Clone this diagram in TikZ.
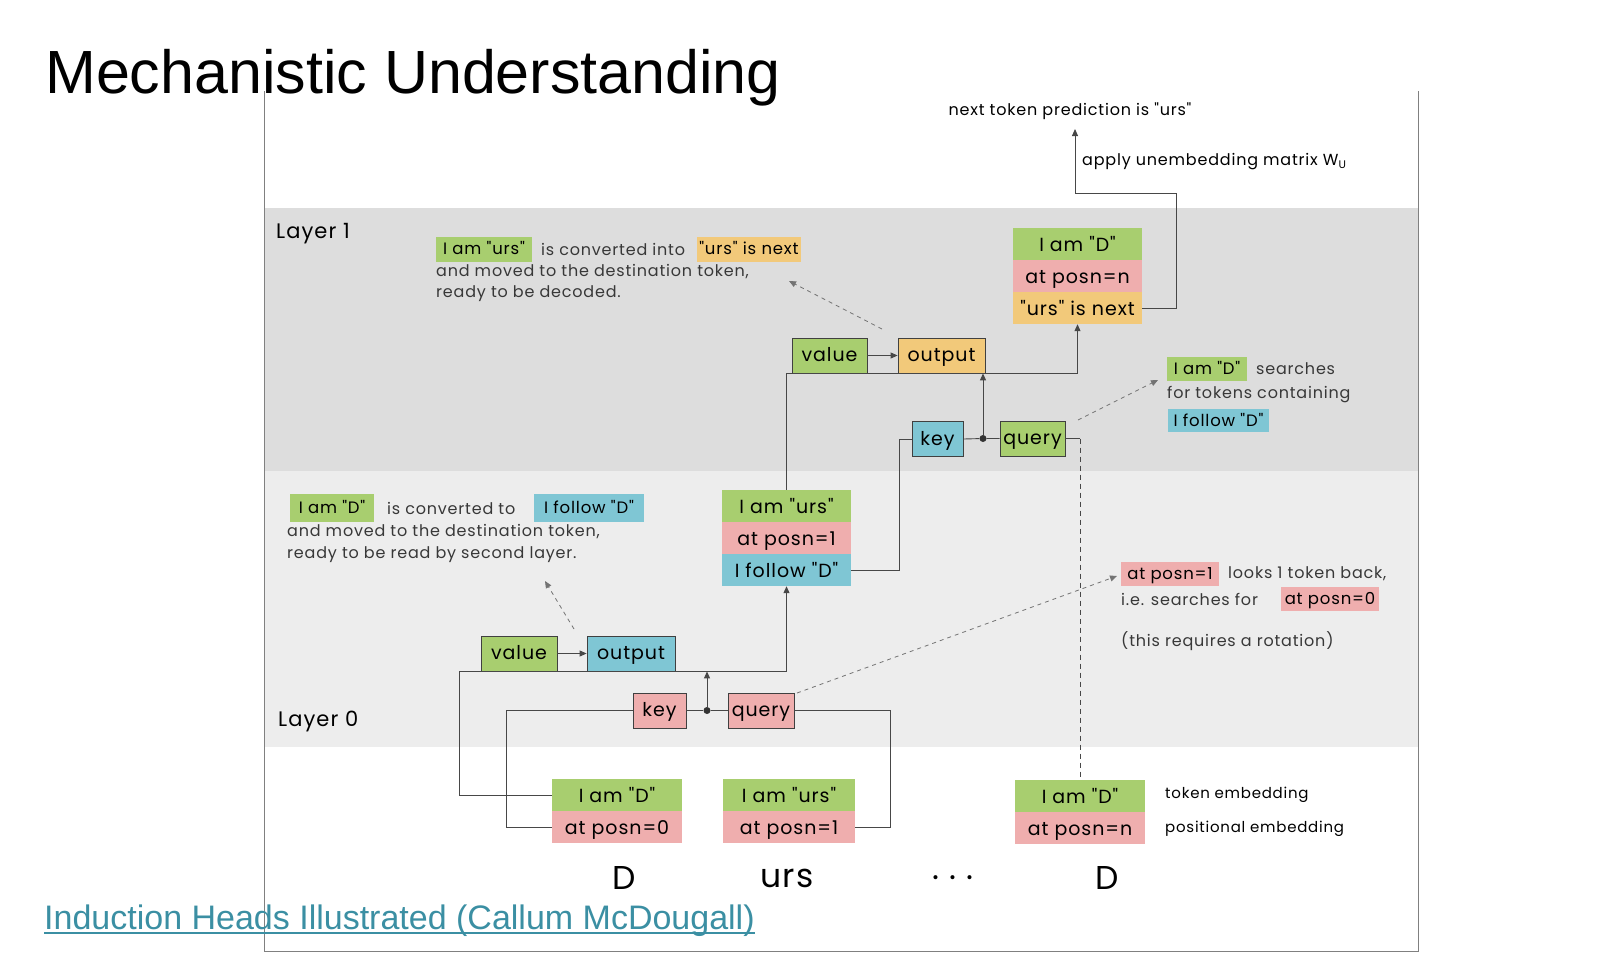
\documentclass[tikz,border=0pt]{standalone}
\usepackage{fontspec}
\setmainfont{Liberation Sans}
\newfontfamily\hand{Poppins}[LetterSpace=5.0]
\usetikzlibrary{arrows.meta}
\definecolor{cgreen}{HTML}{A8CE6F}
\definecolor{cpink}{HTML}{EFAEAE}
\definecolor{corange}{HTML}{F2C97A}
\definecolor{cblue}{HTML}{7FC6D4}
\definecolor{bandA}{HTML}{DDDDDD}
\definecolor{bandB}{HTML}{EDEDED}
\definecolor{linkcol}{HTML}{3B8FA3}
\begin{document}
\begin{tikzpicture}[x=1pt,y=-1pt,
  kbox/.style={draw=black!75,line width=0.8pt,minimum height=35pt,inner sep=0pt,text height=15pt,text depth=3pt,font=\hand\fontsize{19}{22}\selectfont},
  srow/.style={minimum height=32pt,inner sep=0pt,text height=14pt,text depth=0pt,font=\hand\fontsize{19}{22}\selectfont},
  hl/.style={inner sep=0pt,minimum height=25pt,text height=11pt,text depth=0pt,font=\hand\fontsize{16.5}{19}\selectfont},
  note/.style={anchor=west,inner sep=0pt,font=\hand\fontsize{16}{19}\selectfont,text=black!78},
  conn/.style={draw=black!72,line width=0.9pt},
  arr/.style={conn,-{Triangle[length=7pt,width=6pt]}},
  darr/.style={draw=black!55,line width=0.8pt,dash pattern=on 4pt off 4pt,-{Triangle[length=7pt,width=6pt]}},
  big/.style={inner sep=0pt,font=\hand\fontsize{33}{38}\selectfont},
  lay/.style={anchor=west,inner sep=0pt,font=\hand\fontsize{21}{25}\selectfont},
]
\useasboundingbox (0,0) rectangle (1600,954);
% bands
\fill[bandA] (264,208) rectangle (1418,471);
\fill[bandB] (264,471) rectangle (1418,747);
% frame
\draw[black!50,line width=0.9pt] (264,91) -- (264,951) -- (1418,951) -- (1418,91);

% title and link
\node[anchor=base west,inner sep=0pt,font=\fontsize{61}{66}\selectfont] (title) at (45,93) {Mechanistic Understanding};
\node[anchor=base west,inner sep=0pt,text=linkcol,font=\fontsize{34}{40}\selectfont] (link) at (44,929) {Induction Heads Illustrated (Callum McDougall)};
\draw[linkcol,line width=2pt] ([yshift=-4pt]link.base west) -- ([yshift=-4pt]link.base east);

% layer labels
\node[lay] (lay1) at (276,234) {Layer 1};
\node[lay] (lay0) at (278,721) {Layer 0};

% bottom tokens
\node[srow,fill=cgreen,minimum width=130pt] (t1a) at (617,795) {I am "D"};
\node[srow,fill=cpink,minimum width=130pt] (t1b) at (617,827) {at posn=0};
\node[srow,fill=cgreen,minimum width=132pt] (t2a) at (789,795) {I am "urs"};
\node[srow,fill=cpink,minimum width=132pt] (t2b) at (789,827) {at posn=1};
\node[srow,fill=cgreen,minimum width=130pt] (tna) at (1080,796) {I am "D"};
\node[srow,fill=cpink,minimum width=130pt] (tnb) at (1080,828) {at posn=n};
\node[anchor=west,inner sep=0pt,font=\hand\fontsize{15}{18}\selectfont] (tokemb) at (1165,795) {token embedding};
\node[anchor=west,inner sep=0pt,font=\hand\fontsize{15}{18}\selectfont] (posemb) at (1165,829) {positional embedding};

\node[big] (w1) at (624,878) {D};
\node[big] (w2) at (787,878) {urs};
\node[big] (w3) at (953,878) {.\hspace{10pt}.\hspace{10pt}.};
\node[big] (w4) at (1107,878) {D};

% layer 0
\node[kbox,fill=cgreen,minimum width=76pt] (v0) at (519,653.5) {value};
\node[kbox,fill=cblue,minimum width=88pt] (o0) at (631,653.5) {output};
\node[kbox,fill=cpink,minimum width=53pt] (k0) at (659.5,710.5) {key};
\node[kbox,fill=cpink,minimum width=66pt] (q0) at (761,710.5) {query};
\node[circle,fill=black!80,inner sep=0pt,minimum size=7pt] (d0) at (707,710.5) {};

% middle stack
\node[srow,fill=cgreen,minimum width=129pt] (m1) at (786.5,506) {I am "urs"};
\node[srow,fill=cpink,minimum width=129pt] (m2) at (786.5,538) {at posn=1};
\node[srow,fill=cblue,minimum width=129pt] (m3) at (786.5,570) {I follow "D"};

% layer 1
\node[kbox,fill=cgreen,minimum width=75pt] (v1) at (829.5,355.5) {value};
\node[kbox,fill=corange,minimum width=87pt] (o1) at (941.5,355.5) {output};
\node[kbox,fill=cblue,minimum width=51pt] (k1) at (937.5,439) {key};
\node[kbox,fill=cgreen,minimum width=65pt] (q1) at (1032.5,438.5) {query};
\node[circle,fill=black!80,inner sep=0pt,minimum size=7pt] (d1) at (983,438.5) {};

% top stack
\node[srow,fill=cgreen,minimum width=129pt] (s1) at (1077.5,244) {I am "D"};
\node[srow,fill=cpink,minimum width=129pt] (s2) at (1077.5,276) {at posn=n};
\node[srow,fill=corange,minimum width=129pt] (s3) at (1077.5,308) {"urs" is next};

% prediction
\node[anchor=base,inner sep=0pt,font=\hand\fontsize{16}{19}\selectfont] (pred) at (1070,115) {next token prediction is "urs"};
\coordinate (predtip) at (1075,129);
\node[anchor=west,inner sep=0pt,font=\hand\fontsize{16}{19}\selectfont] (unemb) at (1082,162) {apply unembedding matrix W\raisebox{-3pt}{\fontsize{11}{11}\selectfont U}};

% connectors layer 0
\draw[arr] (t1a.west) -| (459,671) -| (m3.south);
\draw[conn] (t1b.west) -| ([xshift=-126pt]k0.west) -- (k0.west);
\draw[conn] (t2b.east) -| ([xshift=96pt]q0.east) -- (q0.east);
\draw[conn] (k0.east) -- (d0) -- (q0.west);
\draw[arr] (d0) -- (d0 |- o0.south);
\draw[arr] (v0.east) -- (o0.west);

% connectors layer 1
\draw[arr] (m1.north) -- (m1.north |- v1.south) -| (s3.south);
\draw[conn] (m3.east) -| ([xshift=-12pt]k1.west) -- (k1.west);
\draw[conn] (k1.east) -- (d1) -- (q1.west);
\draw[arr] (d1) -- (d1 |- o1.south);
\draw[arr] (v1.east) -- (o1.west);
\draw[conn] (q1.east) -- (q1.east -| tna.north);
\draw[conn,dash pattern=on 5pt off 4pt] (q1.east -| tna.north) -- (tna.north);
\draw[arr] (s3.east) -| (1176,193) -| (predtip);

% annotation 1 (layer 1, left)
\node[hl,fill=cgreen,minimum width=96pt] (a1g) at (484,249) {I am "urs"};
\node[note] (a1t) at (541,249) {is converted into};
\node[hl,fill=corange,minimum width=104pt] (a1o) at (749,249) {"urs" is next};
\node[note] (a1l2) at (436,272) {and moved to the destination token,};
\node[note] (a1l3) at (436,294) {ready to be decoded.};
\coordinate (a1from) at (882,329);
\coordinate (a1to) at (789,281);
\draw[darr] (a1from) -- (a1to);

% annotation 3 (layer 1, right)
\node[hl,fill=cgreen,minimum width=80pt,minimum height=24pt] (a3g) at (1207,369) {I am "D"};
\node[note] (a3t) at (1256,369) {searches};
\node[note] (a3l2) at (1167,395) {for tokens containing};
\node[hl,fill=cblue,minimum width=101pt,minimum height=23pt] (a3b) at (1218.5,420.5) {I follow "D"};
\coordinate (a3from) at (1078,420);
\coordinate (a3to) at (1158,380);
\draw[darr] (a3from) -- (a3to);

% annotation 2 (layer 0, left)
\node[hl,fill=cgreen,minimum width=84pt,minimum height=28pt] (a2g) at (332,508) {I am "D"};
\node[note] (a2t) at (387,508) {is converted to};
\node[hl,fill=cblue,minimum width=110pt,minimum height=28pt] (a2b) at (589,508) {I follow "D"};
\node[note] (a2l2) at (287,532) {and moved to the destination token,};
\node[note] (a2l3) at (287,555) {ready to be read by second layer.};
\coordinate (a2from) at (574,629);
\coordinate (a2to) at (545,581);
\draw[darr] (a2from) -- (a2to);

% annotation 4 (layer 0, right)
\node[hl,fill=cpink,minimum width=98pt,minimum height=24pt] (a4p) at (1170,574) {at posn=1};
\node[note] (a4t) at (1228,574) {looks 1 token back,};
\node[note] (a4l2) at (1121,599) {i.e. searches for};
\node[hl,fill=cpink,minimum width=98pt,minimum height=24pt] (a4q) at (1330,599) {at posn=0};
\node[note] (a4l3) at (1121,641) {(this requires a rotation)};
\coordinate (a4from) at (797,693);
\coordinate (a4to) at (1117,576);
\draw[darr] (a4from) -- (a4to);
\end{tikzpicture}
\end{document}
